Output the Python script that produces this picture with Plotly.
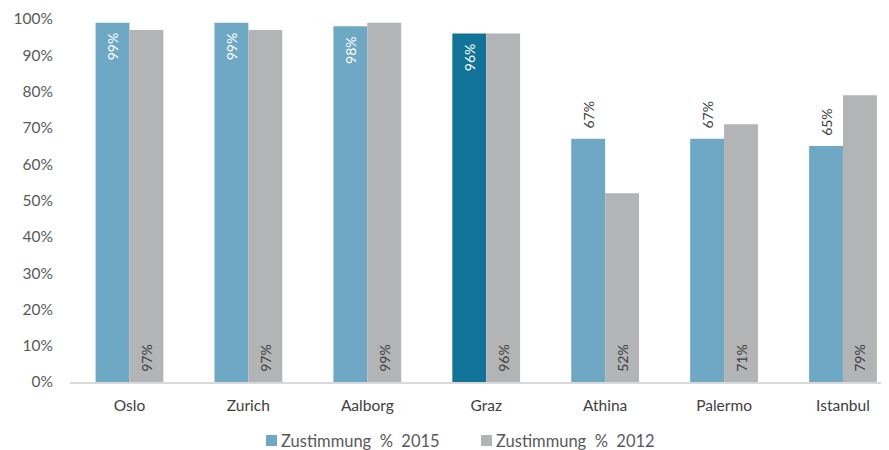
import plotly.graph_objects as go

cities = ["Oslo", "Zurich", "Aalborg", "Graz", "Athina", "Palermo", "Istanbul"]
v2015 = [99, 99, 98, 96, 67, 67, 65]
v2012 = [97, 97, 99, 96, 52, 71, 79]
name2015 = "Zustimmung\u00a0\u00a0%\u00a0\u00a02015"
name2012 = "Zustimmung\u00a0\u00a0%\u00a0\u00a02012"

FONT = "Lato, Open Sans, sans-serif"
blue = "#6FA8C5"
blue_dark = "#127399"
gray = "#B2B4B5"
txt = "#404040"
NB = "\u00a0"

colors2015 = [blue_dark if c == "Graz" else blue for c in cities]
pos2015 = ["inside" if v >= 90 else "outside" for v in v2015]
text2015 = [f"{v}%{NB*2}" if v >= 90 else f"{NB*2}{v}%" for v in v2015]
text2012 = [f"{NB*2}{v}%" for v in v2012]

# page body has an 8px default margin; figure sized/positioned to compensate
OFF = 8
W, H = 881, 442
L, R, T, B = 62, 0, 11, 68
pw, ph = W - L - R, H - T - B

def px(x_page):
    return (x_page - OFF - L) / pw

def py(y_page):
    return (H - B - (y_page - OFF)) / ph

fig = go.Figure()
fig.add_trace(go.Bar(
    x=cities, y=v2015, name=name2015,
    marker=dict(color=colors2015, line=dict(width=0)),
    text=text2015, textposition=pos2015,
    insidetextanchor="end", textangle=-90, constraintext="none",
    insidetextfont=dict(color="white", size=14, family=FONT),
    outsidetextfont=dict(color=txt, size=14, family=FONT),
    cliponaxis=False,
))
fig.add_trace(go.Bar(
    x=cities, y=v2012, name=name2012,
    marker=dict(color=gray, line=dict(width=0)),
    text=text2012, textposition="inside",
    insidetextanchor="start", textangle=-90, constraintext="none",
    insidetextfont=dict(color=txt, size=14, family=FONT),
))

# manual legend
legend_items = [(266, blue, name2015), (481, gray, name2012)]
for x0, col, name in legend_items:
    fig.add_shape(type="rect", xref="paper", yref="paper",
                  x0=px(x0), x1=px(x0 + 11), y0=py(446), y1=py(435),
                  fillcolor=col, line=dict(width=0))
    fig.add_annotation(xref="paper", yref="paper", x=px(x0 + 13), y=py(440.5),
                       xanchor="left", yanchor="middle", showarrow=False,
                       text=name, font=dict(family=FONT, size=16.5, color="#595959"))

fig.update_layout(
    width=W, height=H,
    margin=dict(l=L, r=R, t=T, b=B),
    paper_bgcolor="white", plot_bgcolor="white",
    barmode="group", bargap=0.43, bargroupgap=0,
    font=dict(family=FONT, size=15, color="#595959"),
    showlegend=False,
    xaxis=dict(range=[-0.5, 6.387], showline=True, linecolor="#D9D9D9", linewidth=1.5,
               ticks="", showgrid=False, automargin=False, ticklabelstandoff=9,
               tickfont=dict(size=15.5, color="#404040")),
    yaxis=dict(range=[0, 100], dtick=10, ticksuffix="%", showgrid=False, showline=False,
               zeroline=False, ticks="", automargin=False, ticklabelstandoff=16,
               tickfont=dict(size=15.5, color="#595959")),
)
fig.write_html("out.html")
